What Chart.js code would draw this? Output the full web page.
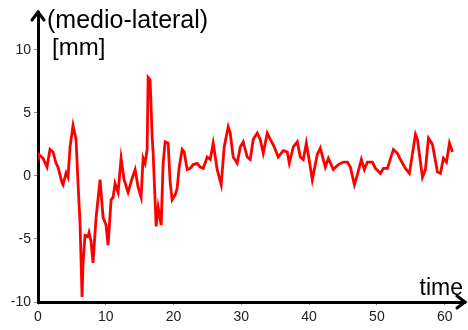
<!DOCTYPE html>
<html>
<head>
<meta charset="utf-8">
<script src="https://cdn.jsdelivr.net/npm/chart.js@4/dist/chart.umd.min.js"></script>
<style>
  html, body { margin: 0; padding: 0; background: #fff; }
  #wrap { width: 468px; height: 330px; }
</style>
</head>
<body>
<div id="wrap"><canvas id="chart1" width="468" height="330"></canvas></div>
<script>
// ---------------- Data ----------------
const times = [0, 0.15, 0.74, 1.33, 1.77, 2.22, 2.66, 2.95, 3.55, 3.69, 4.14, 4.43, 4.73, 5.17, 5.61,
  5.91, 6.2, 6.5, 6.65, 6.94, 7.39, 7.53, 7.83, 8.12, 8.57, 9.16, 9.6, 10.04, 10.34, 10.78,
  11.08, 11.37, 11.82, 12.26, 12.7, 13.29, 13.88, 14.33, 14.77, 15.21, 15.51, 15.8, 16.1, 16.25,
  16.54, 16.84, 16.99, 17.43, 17.73, 18.17, 18.46, 18.76, 19.2, 19.5, 19.79, 20.24, 20.53, 20.83,
  21.27, 21.57, 22.01, 22.45, 22.9, 23.49, 23.93, 24.37, 24.96, 25.41, 25.85, 26.44, 27.03, 27.47,
  28.06, 28.36, 28.8, 29.39, 29.84, 30.28, 30.87, 31.31, 31.76, 32.35, 32.79, 33.23, 33.83, 34.27,
  34.86, 35.45, 36.19, 36.78, 37.08, 37.67, 38.26, 38.7, 39.14, 39.59, 40.03, 40.47, 41.21, 41.65,
  42.39, 42.84, 43.57, 44.31, 45.05, 45.64, 46.09, 46.68, 47.12, 47.71, 48.15, 48.6, 49.34, 49.78,
  50.52, 50.96, 51.55, 52.44, 53.03, 53.47, 54.21, 54.8, 55.69, 55.98, 56.72, 57.16, 57.61, 58.2,
  58.94, 59.38, 59.82, 60.27, 60.71, 61.15];
const mediolateral = [1.2, 1.7, 1.4, 0.7, 2.1, 1.9, 1.0, 0.7, -0.55, -0.7, 0.24, -0.1, 2.3, 4.0, 2.9,
  -0.6, -3.7, -9.6, -6.9, -4.7, -4.8, -4.5, -5.2, -6.9, -3.3, -0.3, -3.3, -3.9, -5.5, -1.9,
  -1.7, -0.6, -1.3, 1.4, -0.3, -1.3, -0.2, 0.5, -0.9, -1.7, 1.4, 1.0, 2.1, 7.8,
  7.6, 3.1, 1.8, -4.0, -2.5, -3.9, 1.0, 2.7, 2.6, -0.5, -1.9, -1.5, -1.0, 0.7,
  2.1, 1.9, 0.5, 0.6, 0.9, 1.0, 0.7, 0.6, 1.5, 1.3, 2.6, 0.5, -0.7, 2.3,
  3.9, 3.4, 1.5, 1.0, 2.3, 2.7, 1.5, 1.3, 2.9, 3.4, 2.9, 1.8, 3.4, 2.9,
  2.3, 1.5, 2.0, 1.9, 1.0, 2.3, 2.7, 1.5, 1.3, 2.6, 1.2, -0.3, 1.7, 2.2,
  0.7, 1.4, 0.5, 0.9, 1.1, 1.1, 0.7, -0.7, 0.1, 1.3, 0.5, 1.1, 1.1, 0.6,
  0.2, 0.6, 0.6, 2.1, 1.8, 1.3, 0.6, 0.2, 3.3, 2.9, -0.1, 0.5, 3.0, 2.5,
  0.3, 0.2, 1.4, 1.1, 2.6, 1.9];
const xTicks = [0, 10, 20, 30, 40, 50, 60];
const yTicks = [-10, -5, 0, 5, 10];

const yLabelTop = '(medio-lateral)';
const yLabelUnit = '[mm]';
const xLabel = 'time';

// ---------------- Axis arrows + labels ----------------
const arrowPlugin = {
  id: 'arrows',
  afterDraw(chart) {
    const ctx = chart.ctx;
    const area = chart.chartArea;
    ctx.save();
    ctx.strokeStyle = '#000';
    ctx.lineWidth = 3;
    ctx.lineCap = 'round';
    // y arrow head
    ctx.beginPath();
    ctx.moveTo(area.left - 6, area.top + 8);
    ctx.lineTo(area.left, area.top);
    ctx.lineTo(area.left + 6, area.top + 8);
    ctx.stroke();
    // x arrow head
    ctx.beginPath();
    ctx.moveTo(area.right - 8, area.bottom - 6);
    ctx.lineTo(area.right, area.bottom);
    ctx.lineTo(area.right - 8, area.bottom + 6);
    ctx.stroke();

    ctx.fillStyle = '#000';
    ctx.font = '25px "Liberation Sans", Arial, sans-serif';
    ctx.textAlign = 'left';
    ctx.fillText(yLabelTop, 47, 28);
    ctx.font = '24px "Liberation Sans", Arial, sans-serif';
    ctx.fillText(yLabelUnit, 52, 55);
    ctx.font = '23px "Liberation Sans", Arial, sans-serif';
    ctx.textAlign = 'right';
    ctx.fillText(xLabel, 463, 295);
    ctx.restore();
  }
};

var ctx = document.getElementById('chart1');
var chart = new Chart(ctx, {
  type: 'scatter',
  data: {
    datasets: [{
      label: 'medio-lateral',
      data: times.map((t, i) => ({x: t, y: mediolateral[i]})),
      showLine: true,
      borderColor: '#ff0000',
      borderWidth: 2.8,
      pointRadius: 0,
      tension: 0,
      fill: false
    }]
  },
  options: {
    responsive: false,
    animation: false,
    layout: {
      padding: {left: 0, right: 3, top: 12, bottom: 0}
    },
    plugins: {
      legend: {display: false},
      tooltip: {enabled: false}
    },
    scales: {
      x: {
        type: 'linear',
        min: 0,
        max: 63,
        afterBuildTicks: (scale) => { scale.ticks = xTicks.map(v => ({value: v})); },
        afterFit: (scale) => { scale.height = 28; },
        border: {display: true, color: '#000', width: 3},
        grid: {drawOnChartArea: false, drawTicks: true, tickLength: 3, color: '#888'},
        ticks: {
          color: '#222',
          padding: 4,
          maxRotation: 0,
          font: {family: '"Liberation Sans", Arial, sans-serif', size: 14}
        }
      },
      y: {
        type: 'linear',
        min: -10,
        max: 13,
        afterBuildTicks: (scale) => { scale.ticks = yTicks.map(v => ({value: v})); },
        afterFit: (scale) => { scale.width = 38; },
        border: {display: true, color: '#000', width: 3},
        grid: {drawOnChartArea: false, drawTicks: true, tickLength: 4, color: '#888'},
        ticks: {
          color: '#222',
          padding: 3,
          font: {family: '"Liberation Sans", Arial, sans-serif', size: 14}
        }
      }
    }
  },
  plugins: [arrowPlugin]
});
</script>
</body>
</html>
